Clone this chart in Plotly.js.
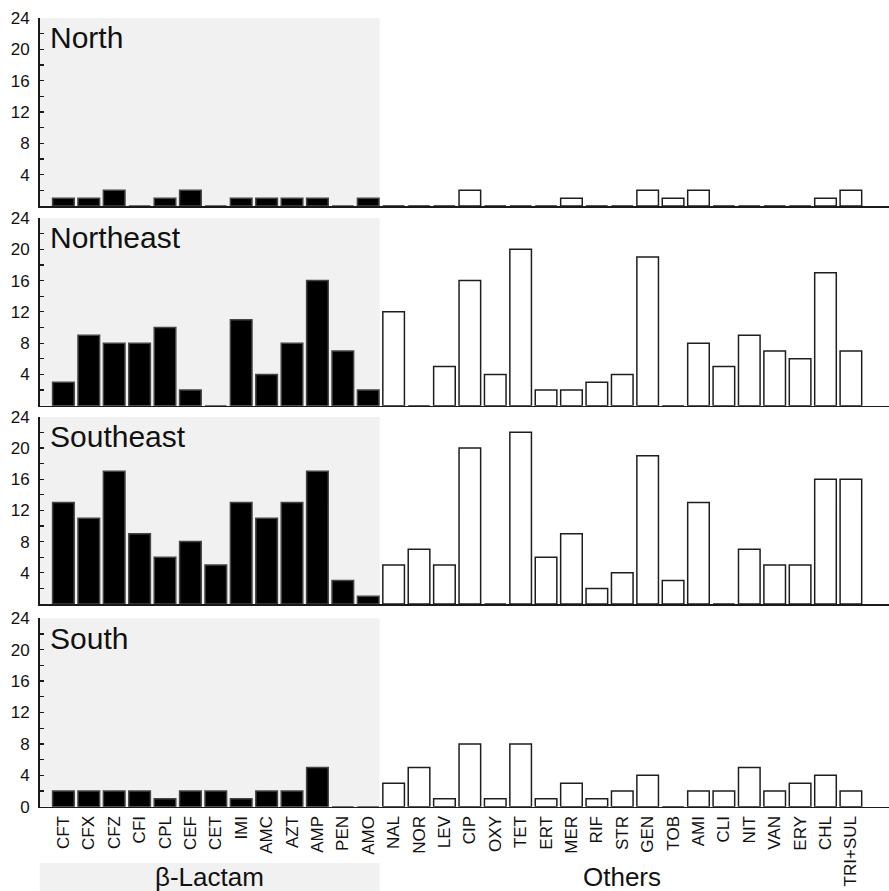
<!DOCTYPE html>
<html>
<head>
<meta charset="utf-8">
<script src="https://cdn.plot.ly/plotly-3.0.1.min.js"></script>
<style>html,body{margin:0;padding:0;background:#fff;}#chart{width:889px;height:891px;}</style>
</head>
<body>
<div id="chart"></div>
<script>
// ---- data ----
const categories = ["CFT","CFX","CFZ","CFI","CPL","CEF","CET","IMI","AMC","AZT","AMP","PEN","AMO",
  "NAL","NOR","LEV","CIP","OXY","TET","ERT","MER","RIF","STR","GEN","TOB","AMI","CLI","NIT","VAN","ERY","CHL","TRI+SUL"];
const betaLactamCount = 13;
const regions = ["North","Northeast","Southeast","South"];
const north     = [1,1,2,0,1,2,0,1,1,1,1,0,1,   0,0,0,2,0,0,0,1,0,0,2,1,2,0,0,0,0,1,2];
const northeast = [3,9,8,8,10,2,0,11,4,8,16,7,2, 12,0,5,16,4,20,2,2,3,4,19,0,8,5,9,7,6,17,7];
const southeast = [13,11,17,9,6,8,5,13,11,13,17,3,1, 5,7,5,20,0,22,6,9,2,4,19,3,13,0,7,5,5,16,16];
const south     = [2,2,2,2,1,2,2,1,2,2,5,0,0,   3,5,1,8,1,8,1,3,1,2,4,0,2,2,5,2,3,4,2];
const regionValues = [north, northeast, southeast, south];
const groupLabels = ["β-Lactam","Others"];
const yTickVals = [0,2,4,6,8,10,12,14,16,18,20,22,24];

// ---- layout helpers ----
const W = 889, H = 891;
const FONT = 'Arial, "Liberation Sans", sans-serif';
const xRange = [-0.94, 32.5];
const xDomain = [39.5 / W, 1];
const panelPix = [[18, 206], [218, 405.7], [416.7, 604], [618.3, 806.7]];
const axisColor = '#1a1a1a';

const data = [];
const layout = {
  width: W, height: H,
  margin: {l: 0, r: 0, t: 0, b: 0},
  paper_bgcolor: '#fff', plot_bgcolor: 'rgba(0,0,0,0)',
  showlegend: false,
  barmode: 'overlay',
  font: {family: FONT, color: '#111'},
  shapes: [], annotations: []
};

regions.forEach((name, i) => {
  const k = i + 1;
  const xa = 'x' + k, ya = 'y' + k;
  const vals = regionValues[i];
  const isLast = i === regions.length - 1;
  data.push({
    type: 'bar', xaxis: xa, yaxis: ya,
    x: categories.slice(0, betaLactamCount), y: vals.slice(0, betaLactamCount),
    width: 0.85,
    marker: {color: '#000', line: {color: '#444', width: 1.5}},
    hoverinfo: 'x+y'
  });
  data.push({
    type: 'bar', xaxis: xa, yaxis: ya,
    x: categories.slice(betaLactamCount), y: vals.slice(betaLactamCount),
    width: 0.85,
    marker: {color: '#fff', line: {color: '#1e1e1e', width: 1.5}},
    hoverinfo: 'x+y'
  });
  const [T, B] = panelPix[i];
  layout['xaxis' + k] = {
    domain: xDomain, anchor: ya, type: 'category',
    categoryorder: 'array', categoryarray: categories,
    range: xRange, fixedrange: true,
    showline: true, linecolor: axisColor, linewidth: 1.5,
    ticks: '', showgrid: false, zeroline: false,
    showticklabels: isLast, tickangle: -90,
    tickfont: {family: FONT, size: 17, color: '#111'},
    ticklabelstandoff: 1
  };
  layout['yaxis' + k] = {
    domain: [1 - B / H, 1 - T / H], anchor: xa,
    range: [0, 24], fixedrange: true,
    tickmode: 'array', tickvals: yTickVals,
    ticktext: yTickVals.map(v => (v % 4 === 0 && (v > 0 || isLast)) ? String(v) : ''),
    ticks: 'inside', ticklen: 4, tickwidth: 1.2, tickcolor: axisColor,
    showline: true, linecolor: axisColor, linewidth: 1.5,
    showgrid: false, zeroline: false,
    tickfont: {family: FONT, size: 17, color: '#111'},
    ticklabelstandoff: 5
  };
  // overlay axis for the small inside tick marks every 2 categories
  const ok = regions.length + k;
  layout['xaxis' + ok] = {
    overlaying: xa, anchor: ya, type: 'linear', range: xRange, fixedrange: true,
    tickmode: 'linear', tick0: 0, dtick: 2,
    ticks: 'inside', ticklen: 3, tickwidth: 1.2, tickcolor: axisColor,
    showticklabels: false, showline: false, showgrid: false, zeroline: false
  };
  // gray β-lactam background
  layout.shapes.push({
    type: 'rect', xref: xa, yref: ya, layer: 'below',
    x0: xRange[0], x1: betaLactamCount - 1 + 0.45, y0: 0, y1: 24,
    fillcolor: '#f1f1f1', line: {width: 0}
  });
  layout.annotations.push({
    text: name, xref: xa + ' domain', yref: ya + ' domain',
    x: 0.01, y: 0.895, xanchor: 'left', yanchor: 'middle', showarrow: false,
    font: {family: FONT, size: 30, color: '#111'}
  });
});

// bottom group labels
const lastX = 'x' + regions.length;
layout.shapes.push({
  type: 'rect', xref: lastX, yref: 'paper', layer: 'below',
  x0: xRange[0], x1: betaLactamCount - 1 + 0.45, y0: 0, y1: 1 - 863 / H,
  fillcolor: '#f1f1f1', line: {width: 0}
});
layout.annotations.push({
  text: groupLabels[0], xref: lastX, yref: 'paper',
  x: (xRange[0] + betaLactamCount - 1 + 0.45) / 2, y: 1 - 877 / H,
  xanchor: 'center', yanchor: 'middle', showarrow: false,
  font: {family: FONT, size: 26, color: '#111'}
});
layout.annotations.push({
  text: groupLabels[1], xref: lastX, yref: 'paper',
  x: (betaLactamCount + categories.length - 1) / 2, y: 1 - 877 / H,
  xanchor: 'center', yanchor: 'middle', showarrow: false,
  font: {family: FONT, size: 26, color: '#111'}
});

Plotly.newPlot('chart', data, layout, {displayModeBar: false, staticPlot: true});
</script>
</body>
</html>
